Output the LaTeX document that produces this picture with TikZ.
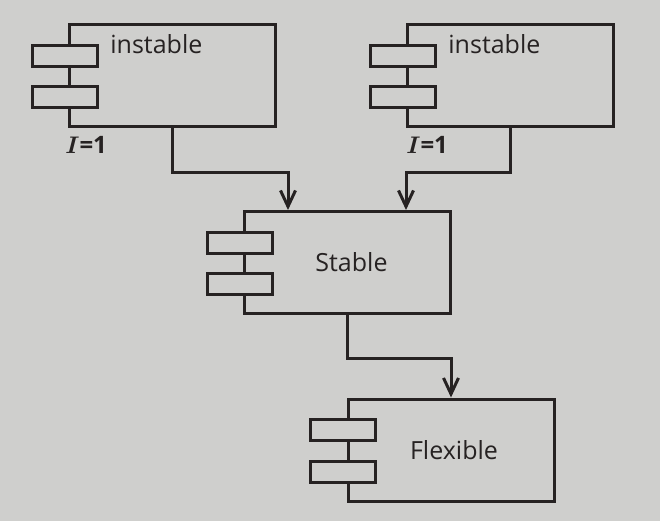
\documentclass[tikz,border=0pt]{standalone}
\usepackage{fontspec}
\setmainfont{Open Sans}
\usepackage{bm}
\usetikzlibrary{positioning,calc,arrows.meta}
\definecolor{paper}{RGB}{207,207,205}
\definecolor{ink}{RGB}{38,34,34}

\begin{document}
\begin{tikzpicture}[x=0.5pt,y=-0.5pt,
        compnode/.style={rectangle, draw=ink, line width=1.5pt, minimum width=103pt, minimum height=51pt, inner sep=0pt},
        tabnode/.style={rectangle, draw=ink, fill=paper, line width=1.5pt, minimum width=32.5pt, minimum height=10.5pt, inner sep=0pt},
        namenode/.style={font=\fontsize{12.5}{15}\selectfont, text=ink, inner sep=0pt},
        inode/.style={font=\bfseries\fontsize{12}{14}\selectfont, text=ink, inner sep=0pt},
        dep/.style={draw=ink, line width=1.5pt, -{Straight Barb[length=8pt,width=7.5pt]}},
        ]
        \fill[paper] (0,0) rectangle (660,521);
        \useasboundingbox (0,0) rectangle (660,521);
        %Components
        \node[compnode] (inst1) at (172.5,75.5) {};
        \node[compnode] (inst2) at (510.5,75.5) {};
        \node[compnode] (stable) at (347.5,262.5) {};
        \node[compnode] (flex) at (451,450) {};
        %Tabs
        \foreach \c in {inst1,inst2,stable,flex}{
            \node[tabnode] (\c-a) at ($(\c.west)+(-3.5,-20)$) {};
            \node[tabnode] (\c-b) at ($(\c.west)+(-3.5,21.5)$) {};
        }
        %Labels
        \node[namenode, anchor=base west] (inst1-name) at ($(inst1.north west)+(42,30)$) {instable};
        \node[namenode, anchor=base west] (inst2-name) at ($(inst2.north west)+(42,30)$) {instable};
        \node[namenode] (stable-name) at ($(stable.center)+(4,0)$) {Stable};
        \node[namenode] (flex-name) at ($(flex.center)+(3,0)$) {Flexible};
        \node[inode, anchor=north west] (inst1-i) at ($(inst1.south west)+(-3,8)$) {$\bm{I}$=1};
        \node[inode, anchor=north west] (inst2-i) at ($(inst2.south west)+(0,8)$) {$\bm{I}$=1};
        %Dependencies
        \draw[dep] (inst1.south) -- ++(0,44) -| ($(stable.north west)+(45,0)$);
        \draw[dep] (inst2.south) -- ++(0,44) -| ($(stable.north east)+(-46,0)$);
        \draw[dep] (stable.south) -- ++(0,43) -| (flex.north);
    \end{tikzpicture}
\end{document}
